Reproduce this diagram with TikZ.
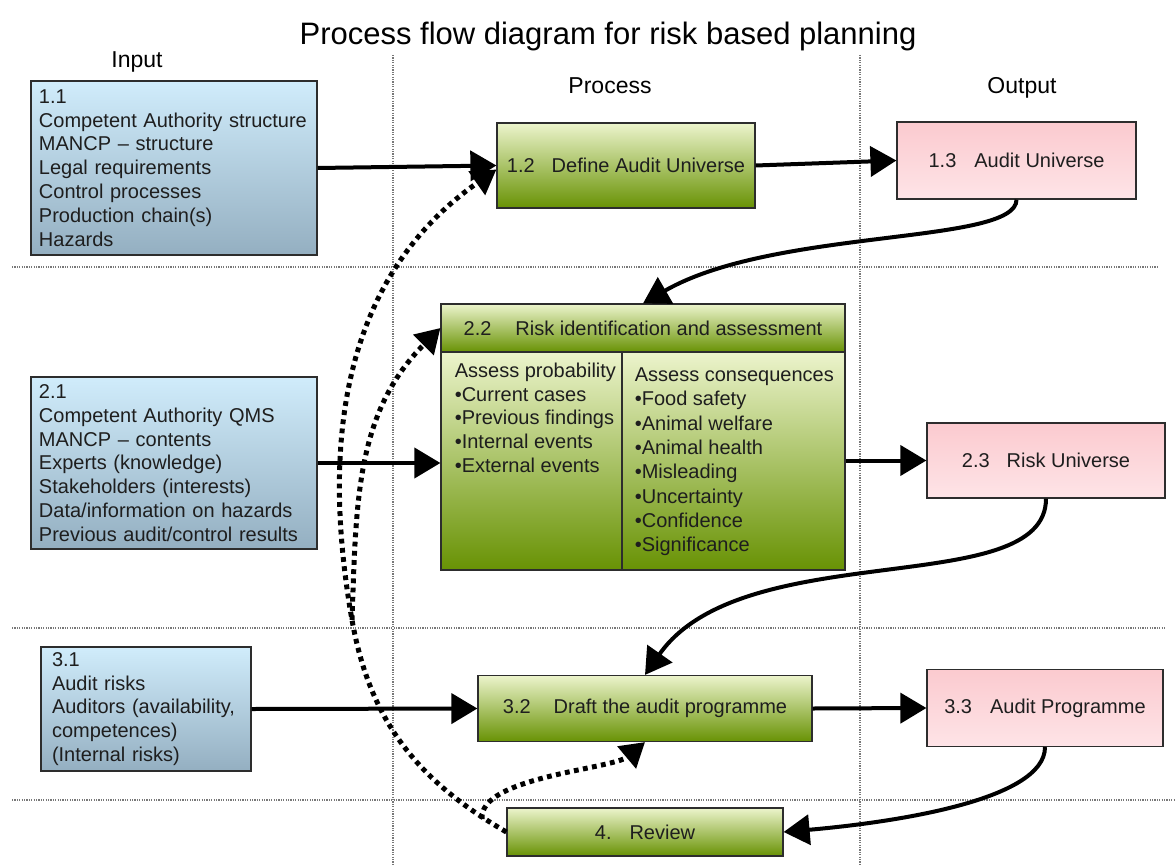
\documentclass[tikz,border=0pt]{standalone}
\usepackage{fontspec}
\setmainfont{Liberation Sans}
\usetikzlibrary{arrows.meta}

\definecolor{boxline}{RGB}{45,45,45}
\definecolor{bluetop}{RGB}{208,236,251}
\definecolor{bluebot}{RGB}{148,175,193}
\definecolor{greentop}{RGB}{236,244,204}
\definecolor{greenbot}{RGB}{104,146,4}
\definecolor{pinktop}{RGB}{251,202,207}
\definecolor{pinkbot}{RGB}{254,228,231}
\definecolor{gridgray}{RGB}{120,120,120}
\definecolor{inktext}{RGB}{30,30,30}

\begin{document}
\begin{tikzpicture}[x=0.5pt, y=0.5pt,
	boxtext/.style={font=\fontsize{10}{11.9}\selectfont, text=inktext},
	inbox/.style={boxtext, draw=boxline, line width=0.6pt, top color=bluetop, bottom color=bluebot, align=left, inner xsep=4pt, inner ysep=0pt},
	procbox/.style={boxtext, draw=boxline, line width=0.6pt, top color=greentop, bottom color=greenbot, inner sep=0pt},
	outbox/.style={boxtext, draw=boxline, line width=0.6pt, top color=pinktop, bottom color=pinkbot, inner sep=0pt},
	coltext/.style={boxtext, align=left, inner sep=0pt, anchor=north west},
	heading/.style={font=\fontsize{11.5}{13}\selectfont, anchor=base},
	lane/.style={gridgray, line width=0.6pt, dash pattern=on 0.6pt off 0.6pt},
	flow/.style={line width=2pt, -{Triangle[length=13pt,width=15pt]}},
	feedback/.style={line width=2.5pt, dash pattern=on 2.4pt off 2.2pt, -{Triangle[length=12pt,width=14pt]}}]

	\useasboundingbox (0,0) rectangle (1176,-866);

	\draw[lane] (393,-55) -- (393,-866);
	\draw[lane] (860,-55) -- (860,-866);
	\draw[lane] (12,-267) -- (1158,-267);
	\draw[lane] (12,-628) -- (1166,-628);
	\draw[lane] (12,-800) -- (1176,-800);

	\node[font=\fontsize{15.5}{18}\selectfont, anchor=base] (title) at (608,-45) {Process flow diagram for risk based planning};
	\node[heading] (hin)   at (137,-68)  {Input};
	\node[heading] (hproc) at (610,-94)  {Process};
	\node[heading] (hout)  at (1022,-94) {Output};

	\node[inbox, text width=135pt, minimum height=87pt] (in1) at (174,-168)
		{1.1\\Competent Authority structure\\MANCP – structure\\Legal requirements\\Control processes\\Production chain(s)\\Hazards};
	\node[procbox, minimum width=129pt, minimum height=42.5pt] (def) at (626,-165.5) {1.2\hspace{0.85em}Define Audit Universe};
	\node[outbox, minimum width=119.5pt, minimum height=38.5pt] (univ) at (1016.5,-160.5) {1.3\hspace{0.9em}Audit Universe};

	\node[inbox, text width=135pt, minimum height=86pt] (in2) at (174,-463)
		{2.1\\Competent Authority QMS\\MANCP – contents\\Experts (knowledge)\\Stakeholders (interests)\\Data/information on hazards\\Previous audit/control results};
	\node[procbox, minimum width=202pt, minimum height=24pt] (risk) at (643,-328) {2.2\hspace{1.2em}Risk identification and assessment};
	\node[procbox, minimum width=90.5pt, minimum height=109pt] (probcol) at (531.5,-461) {};
	\node[procbox, minimum width=111.5pt, minimum height=109pt] (conscol) at (733.5,-461) {};
	\node[coltext] (prob) at ([xshift=7pt,yshift=-5.5pt]probcol.north west)
		{Assess probability\\•Current cases\\•Previous findings\\•Internal events\\•External events};
	\node[coltext, font=\fontsize{10}{12.15}\selectfont] (cons) at ([xshift=6.5pt,yshift=-8pt]conscol.north west)
		{Assess consequences\\•Food safety\\•Animal welfare\\•Animal health\\•Misleading\\•Uncertainty\\•Confidence\\•Significance};
	\node[outbox, minimum width=119pt, minimum height=37.5pt] (risku) at (1046,-460.5) {2.3\hspace{0.85em}Risk Universe};

	\node[inbox, text width=94pt, inner xsep=5.5pt, minimum height=62pt] (in3) at (146,-709)
		{3.1\\Audit risks\\Auditors (availability,\\competences)\\(Internal risks)};
	\node[procbox, minimum width=167pt, minimum height=33pt] (draft) at (645,-708.5) {3.2\hspace{1.15em}Draft the audit programme};
	\node[outbox, minimum width=118pt, minimum height=38.5pt] (prog) at (1045,-708) {3.3\hspace{0.9em}Audit Programme};

	\node[procbox, minimum width=138pt, minimum height=24pt] (rev) at (645,-832) {4.\hspace{0.9em}Review};

	\path[flow] (in1.east) edge (def.west);
	\path[flow] (def.east) edge (univ.west);
	\path[flow] (univ.south) edge[out=-90, in=30, out looseness=0.3] (risk.north);
	\path[flow] (in2.east) edge (in2.east -| probcol.west);
	\path[flow] (risku.west -| conscol.east) edge (risku.west);
	\path[flow] (risku.south) edge[out=-90, in=55, out looseness=0.6] (draft.north);
	\path[flow] (in3.east) edge (draft.west);
	\path[flow] (draft.east) edge (prog.west);
	\path[flow] (prog.south) edge[out=-90, in=5, out looseness=0.5] (rev.east);

	\coordinate (fork) at (352,-620);
	\coordinate (branch) at (482,-819);
	\draw[feedback] (rev.west) to[out=150, in=-80] (fork) to[out=100, in=-145] ([yshift=-2pt]def.west);
	\draw[feedback] (fork) to[out=88, in=-135] (risk.west);
	\draw[feedback] (branch) to[out=95, in=-140, looseness=0.6] (draft.south);
\end{tikzpicture}
\end{document}
